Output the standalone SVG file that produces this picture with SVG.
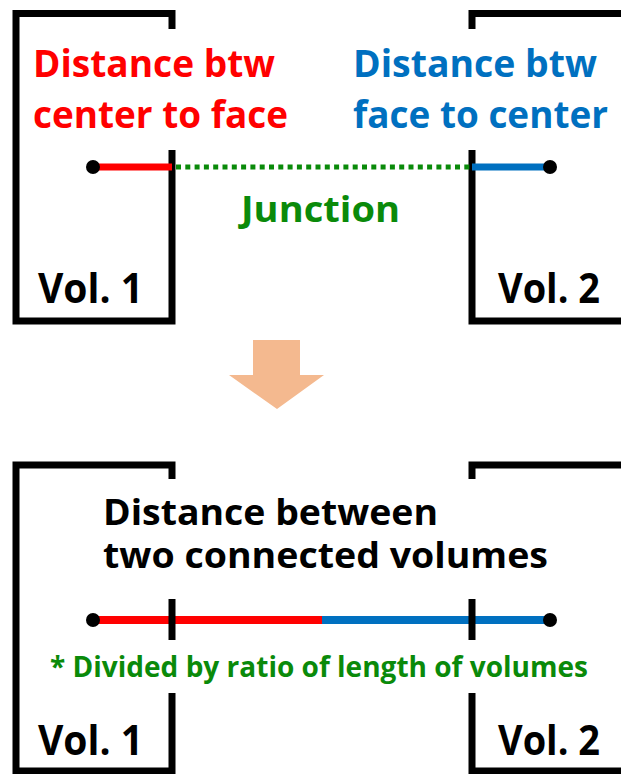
<svg xmlns="http://www.w3.org/2000/svg" width="621" height="774" viewBox="0 0 621 774">
<style>
.wall{fill:none;stroke:#000;stroke-width:7;stroke-linecap:butt}
.t{font-family:"Open Sans","Liberation Sans",sans-serif;font-weight:700}
.red{fill:#ff0000}
.blue{fill:#0070c0}
.green{fill:#0a8a0a}
.blk{fill:#000}
.dot{fill:#000}
</style>
<rect width="621" height="774" fill="#fff"/>
<!-- Top panel -->
<g id="top-vol1">
<path class="wall" d="M172,29 V13.5 H16 V321 H172 V150"/>
<text class="t blk" x="38" y="303" font-size="41" textLength="105" lengthAdjust="spacingAndGlyphs">Vol. 1</text>
</g>
<g id="top-vol2">
<path class="wall" d="M472,29 V13.5 H621 M621,321 H472 V150"/>
<text class="t blk" x="498" y="303" font-size="41" textLength="102" lengthAdjust="spacingAndGlyphs">Vol. 2</text>
</g>
<g id="top-labels">
<text class="t red" x="33" y="77" font-size="38" textLength="242" lengthAdjust="spacingAndGlyphs">Distance btw</text>
<text class="t red" x="33" y="128" font-size="38" textLength="255" lengthAdjust="spacingAndGlyphs">center to face</text>
<text class="t blue" x="353" y="77" font-size="38" textLength="244" lengthAdjust="spacingAndGlyphs">Distance btw</text>
<text class="t blue" x="353" y="128" font-size="38" textLength="255" lengthAdjust="spacingAndGlyphs">face to center</text>
<text class="t green" x="241" y="222" font-size="36" textLength="159" lengthAdjust="spacingAndGlyphs">Junction</text>
</g>
<g id="connectors">
<line x1="93" y1="167" x2="172" y2="167" stroke="#ff0000" stroke-width="7"/>
<line x1="176" y1="167" x2="470" y2="167" stroke="#0a8a0a" stroke-width="5" stroke-dasharray="5 4.3"/>
<line x1="472" y1="167" x2="550" y2="167" stroke="#0070c0" stroke-width="7"/>
<circle class="dot" cx="93" cy="167" r="7"/>
<circle class="dot" cx="550" cy="167" r="7"/>
<line x1="93" y1="620" x2="322" y2="620" stroke="#ff0000" stroke-width="8"/>
<line x1="322" y1="620" x2="550" y2="620" stroke="#0070c0" stroke-width="8"/>
<circle class="dot" cx="93" cy="620" r="7"/>
<circle class="dot" cx="550" cy="620" r="7"/>
</g>
<!-- Arrow -->
<g id="arrow">
<polygon points="253,340 300,340 300,375 324,375 277,409 229,375 253,375" fill="#f4b98f"/>
</g>
<!-- Bottom panel -->
<g id="bottom-vol1">
<path class="wall" d="M172,479 V465 H16 V771 H172 V693"/>
<line class="wall" x1="172" y1="599" x2="172" y2="640"/>
<text class="t blk" x="38" y="755" font-size="41" textLength="105" lengthAdjust="spacingAndGlyphs">Vol. 1</text>
</g>
<g id="bottom-vol2">
<path class="wall" d="M472,479 V465 H621 M621,771 H472 V693"/>
<line class="wall" x1="472" y1="599" x2="472" y2="640"/>
<text class="t blk" x="498" y="755" font-size="41" textLength="102" lengthAdjust="spacingAndGlyphs">Vol. 2</text>
</g>
<g id="bottom-labels">
<text class="t blk" x="103" y="525" font-size="35" textLength="335" lengthAdjust="spacingAndGlyphs">Distance between</text>
<text class="t blk" x="103" y="568" font-size="35" textLength="445" lengthAdjust="spacingAndGlyphs">two connected volumes</text>
<text class="t green" x="50" y="677" font-size="29" textLength="538" lengthAdjust="spacingAndGlyphs">* Divided by ratio of length of volumes</text>
</g>
</svg>
